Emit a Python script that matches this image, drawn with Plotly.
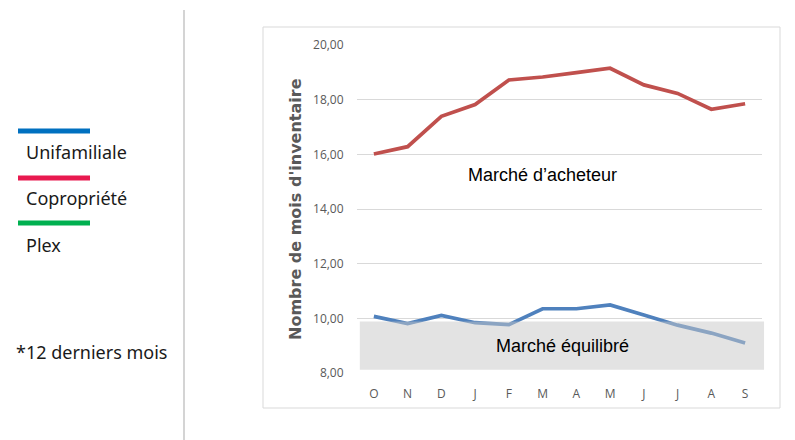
import plotly.graph_objects as go

# Mois (octobre a septembre) - 12 derniers mois
mois = ["O", "N", "D", "J", "F", "M", "A", "M", "J", "J", "A", "S"]
copropriete = [16.01, 16.28, 17.39, 17.82, 18.72, 18.83, 18.99, 19.15, 18.54, 18.23, 17.65, 17.85]
unifamiliale = [10.07, 9.81, 10.11, 9.84, 9.77, 10.35, 10.35, 10.49, 10.12, 9.75, 9.46, 9.10]
y_ticks = [8, 10, 12, 14, 16, 18, 20]
zone_equilibre = [8.12, 9.88]

legende = [("Unifamiliale", "#0070c0"), ("Copropriété", "#e8194f"), ("Plex", "#00b050")]

# la page ajoute une marge de 8 px autour de la figure
OFF = 8
W, H = 795 - OFF, 440 - OFF


def px_x(x):
    return (x - OFF) / W


def px_y(y):
    return 1 - (y - OFF) / H


xpos = list(range(len(mois)))

fig = go.Figure()
fig.add_trace(go.Scatter(x=xpos, y=copropriete, mode="lines",
                         line=dict(color="#c0504d", width=3.7), hoverinfo="skip"))
fig.add_trace(go.Scatter(x=xpos, y=unifamiliale, mode="lines",
                         line=dict(color="#4f81bd", width=3.7), hoverinfo="skip"))

shapes = [
    # zone marche equilibre, au-dessus des lignes
    dict(type="rect", xref="x domain", yref="y", x0=0.007, x1=1.005,
         y0=zone_equilibre[0], y1=zone_equilibre[1],
         fillcolor="rgb(200,200,200)", opacity=0.5, line=dict(width=0), layer="above"),
    # cadre du graphique
    dict(type="rect", xref="paper", yref="paper", x0=px_x(263), x1=px_x(780),
         y0=px_y(408), y1=px_y(27), line=dict(color="#d9d9d9", width=1), layer="below"),
    # separateur gauche
    dict(type="line", xref="paper", yref="paper", x0=px_x(184), x1=px_x(184),
         y0=px_y(10), y1=0, line=dict(color="#d4d4d4", width=2)),
]

annotations = [
    dict(text="<b>Nombre de mois d'inventaire</b>", x=px_x(295), y=px_y(209),
         xref="paper", yref="paper", textangle=-90, showarrow=False,
         font=dict(family="DejaVu Sans", size=16, color="#595959")),
    dict(text="Marché d’acheteur", x=5, y=15.25, xref="x", yref="y", showarrow=False,
         font=dict(family="Liberation Sans", size=18, color="#000000")),
    dict(text="Marché équilibré", x=5.6, y=8.97, xref="x", yref="y", showarrow=False,
         font=dict(family="Liberation Sans", size=18, color="#000000")),
    dict(text="*12 derniers mois", x=px_x(14), y=px_y(352), xref="paper", yref="paper",
         xanchor="left", yanchor="middle", showarrow=False,
         font=dict(family="Noto Sans", size=18, color="#1a1a1a")),
]

line_y = [131, 178, 223]
text_y = [152, 198, 245]
for (nom, couleur), ly, ty in zip(legende, line_y, text_y):
    shapes.append(dict(type="line", xref="paper", yref="paper", x0=px_x(18), x1=px_x(90),
                       y0=px_y(ly), y1=px_y(ly), line=dict(color=couleur, width=5)))
    annotations.append(dict(text=nom, x=px_x(24), y=px_y(ty), xref="paper", yref="paper",
                            xanchor="left", yanchor="middle", showarrow=False,
                            font=dict(family="Noto Sans", size=18, color="#1a1a1a")))

fig.update_layout(
    width=W, height=H,
    margin=dict(l=0, r=0, t=0, b=0),
    paper_bgcolor="white", plot_bgcolor="white",
    showlegend=False,
    shapes=shapes,
    annotations=annotations,
    xaxis=dict(
        domain=[px_x(357), px_x(762)],
        tickmode="array", tickvals=xpos, ticktext=mois,
        range=[-0.5, len(mois) - 0.5],
        showgrid=False, zeroline=False, showline=False, automargin=False,
        ticks="outside", ticklen=10, tickcolor="rgba(0,0,0,0)",
        tickfont=dict(family="Open Sans", size=12, color="#595959"),
    ),
    yaxis=dict(
        domain=[px_y(373), px_y(45)],
        range=[8, 20],
        tickvals=y_ticks, ticktext=[f"{v:.2f}".replace(".", ",") for v in y_ticks],
        showgrid=True, gridcolor="#d9d9d9", gridwidth=1, zeroline=False, showline=False,
        automargin=False,
        ticks="outside", ticklen=10, tickcolor="rgba(0,0,0,0)",
        tickfont=dict(family="Open Sans", size=12, color="#595959"),
    ),
)

fig.write_html("out.html")
